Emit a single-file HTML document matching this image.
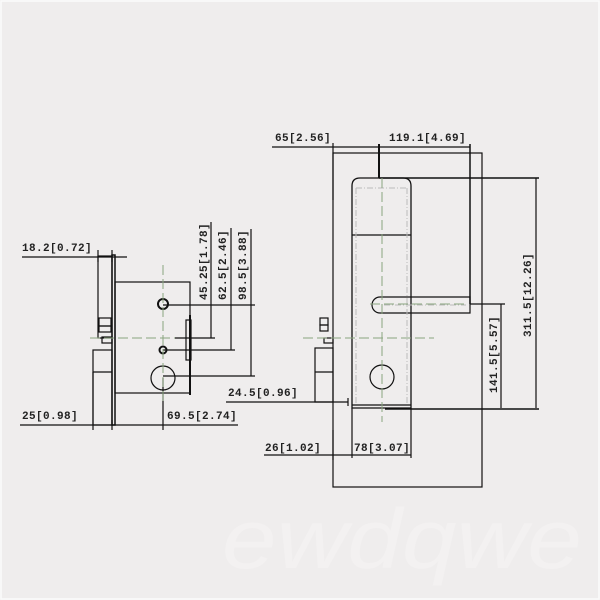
<!DOCTYPE html>
<html><head><style>
html,body{margin:0;padding:0;background:#efeded;}
svg{display:block}
text{font-family:"Liberation Mono",monospace;font-size:11px;font-weight:bold;fill:#222;letter-spacing:0.4px}
</style></head><body>
<svg width="600" height="600" viewBox="0 0 600 600" xmlns="http://www.w3.org/2000/svg">
<rect x="0" y="0" width="600" height="600" fill="#efeded"/>
<rect x="1" y="1" width="598" height="598" fill="none" stroke="#fbfbfb" stroke-width="1.5"/>
<text x="222" y="568" textLength="360" lengthAdjust="spacingAndGlyphs" style="font-family:'Liberation Sans',sans-serif;font-size:84px;font-style:italic;font-weight:normal;fill:#f3f1f1;letter-spacing:0">ewdqwe</text>

<g stroke="#111" fill="none" stroke-width="1.2">
<rect x="98" y="256" width="14" height="82"/>
<rect x="99" y="318" width="12" height="8"/>
<rect x="99" y="326" width="12" height="6"/>
<rect x="102" y="337" width="10" height="6"/>
<rect x="112" y="255" width="3" height="170" stroke-width="1.5"/>
<rect x="93" y="350" width="19" height="75"/>
<line x1="93" y1="372" x2="112" y2="372"/>
<rect x="115" y="282" width="75" height="111"/>
<line x1="190" y1="315" x2="190" y2="395" stroke-width="2"/>
<rect x="186" y="320" width="5" height="40"/>
<circle cx="163" cy="304" r="5" stroke-width="2"/>
<circle cx="163" cy="350" r="3.5" stroke-width="2"/>
<circle cx="163" cy="378" r="12"/>
<line x1="22" y1="257" x2="127" y2="257"/>
<line x1="98" y1="250" x2="98" y2="262"/>
<line x1="112" y1="250" x2="112" y2="262"/>
<line x1="163" y1="305" x2="255" y2="305"/>
<line x1="175" y1="338" x2="215" y2="338"/>
<line x1="163" y1="350" x2="235" y2="350"/>
<line x1="163" y1="376" x2="255" y2="376"/>
<line x1="211" y1="222" x2="211" y2="338"/>
<line x1="231" y1="228" x2="231" y2="350"/>
<line x1="251" y1="229" x2="251" y2="376"/>
<line x1="20" y1="425" x2="238" y2="425"/>
<line x1="93" y1="372" x2="93" y2="430"/>
<line x1="112" y1="420" x2="112" y2="430"/>
<line x1="163" y1="378" x2="163" y2="430"/>
<line x1="226" y1="402" x2="348" y2="402"/>

<rect x="333" y="153" width="149" height="334"/>
<rect x="320" y="318" width="8" height="7"/>
<rect x="320" y="325" width="8" height="6"/>
<rect x="324" y="338" width="9" height="5"/>
<rect x="315" y="348" width="18" height="54"/>
<line x1="315" y1="372" x2="333" y2="372"/>
<path d="M352 408 V186 Q352 178 360 178 H403 Q411 178 411 186 V408 Z" stroke-width="1.3"/>
<line x1="352" y1="235" x2="411" y2="235"/>
<line x1="352" y1="405" x2="411" y2="405"/>
<path d="M380 297 H470 V313 H380 A8 8 0 0 1 380 297 Z"/>
<circle cx="382" cy="377" r="12"/>
<line x1="272" y1="147" x2="470" y2="147"/>
<line x1="333" y1="143" x2="333" y2="200"/>
<line x1="379" y1="144" x2="379" y2="178" stroke-width="2"/>
<line x1="470" y1="144" x2="470" y2="304" stroke-width="1.5"/>
<line x1="379" y1="178" x2="539" y2="178" stroke-width="1.5"/>
<line x1="470" y1="304" x2="505" y2="304"/>
<line x1="536" y1="178" x2="536" y2="408"/>
<line x1="501" y1="304" x2="501" y2="408"/>
<line x1="385" y1="409" x2="539" y2="409" stroke-width="1.5"/>
<line x1="264" y1="455" x2="411" y2="455"/>
<line x1="333" y1="430" x2="333" y2="460"/>
<line x1="352" y1="408" x2="352" y2="458"/>
<line x1="411" y1="408" x2="411" y2="458"/>
<line x1="348" y1="398" x2="348" y2="406"/>
</g>
<g stroke="#bbb" fill="none" stroke-width="1" stroke-dasharray="6 2 1 2">
<line x1="356" y1="188" x2="356" y2="404"/>
<line x1="407" y1="188" x2="407" y2="404"/>
<line x1="356" y1="188" x2="407" y2="188"/>
<line x1="384" y1="305" x2="466" y2="305"/>
</g>
<g stroke="#8aa57f" fill="none" stroke-width="1" stroke-dasharray="10 4">
<line x1="163" y1="265" x2="163" y2="405"/>
<line x1="90" y1="338" x2="175" y2="338"/>
<line x1="382" y1="178" x2="382" y2="422"/>
<line x1="303" y1="338" x2="434" y2="338"/>
<line x1="370" y1="304" x2="468" y2="304"/>
</g>
<g fill="#111">
<text x="22" y="251">18.2[0.72]</text>
<text x="22" y="419">25[0.98]</text>
<text x="167" y="419">69.5[2.74]</text>
<text x="228" y="396">24.5[0.96]</text>
<text x="275" y="141">65[2.56]</text>
<text x="389" y="141">119.1[4.69]</text>
<text x="265" y="451">26[1.02]</text>
<text x="354" y="451">78[3.07]</text>
<text transform="translate(207,300) rotate(-90)">45.25[1.78]</text>
<text transform="translate(226,300) rotate(-90)">62.5[2.46]</text>
<text transform="translate(246,300) rotate(-90)">98.5[3.88]</text>
<text transform="translate(497,393) rotate(-90)">141.5[5.57]</text>
<text transform="translate(531,337) rotate(-90)">311.5[12.26]</text>
</g>
</svg>
</body></html>
